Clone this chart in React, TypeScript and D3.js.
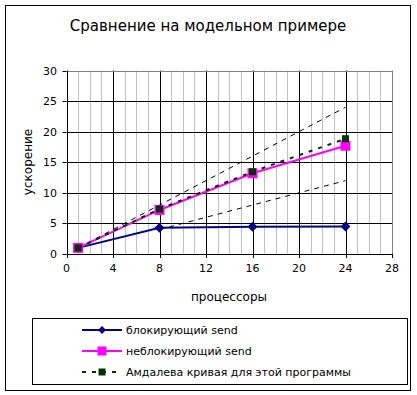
import React from 'react';
import * as d3 from 'd3';

// processors (x) and speedup values
const procs = [1, 8, 16, 24];
const blocking = [1, 4.3, 4.45, 4.5];
const nonBlocking = [1, 7.2, 13.2, 17.7];
const amdahl = [1, 7.35, 13.45, 18.85];
const linear = [1, 8, 16, 24];
const halfProcs = [8, 16, 24];
const halfLinear = [4, 8, 12];

const xTicks = [0, 4, 8, 12, 16, 20, 24, 28];
const yTicks = [0, 5, 10, 15, 20, 25, 30];

const title = 'Сравнение на модельном примере';
const xTitle = 'процессоры';
const yTitle = 'ускорение';
const legendNames = ['блокирующий send', 'неблокирующий send', 'Амдалева кривая для этой программы'];

const W = 417;
const H = 395;
const font = '"DejaVu Sans", Verdana, sans-serif';

const BLUE = '#000080';
const MAGENTA = '#ff00ff';
const GREEN = '#003300';

export default function App() {
    const x = d3.scaleLinear().domain([0, 28]).range([66.5, 392]);
    const y = d3.scaleLinear().domain([0, 30]).range([254, 70.5]);

    const line = d3.line<[number, number]>()
        .x(d => x(d[0]))
        .y(d => y(d[1]));

    const pts = (xs: number[], ys: number[]) => xs.map((v, i) => [v, ys[i]] as [number, number]);

    const minorX = d3.range(0, 29);

    const diamond = (cx: number, cy: number, r: number, key: any) => (
        <path key={key} d={`M${cx},${cy - r}L${cx + r},${cy}L${cx},${cy + r}L${cx - r},${cy}Z`} fill={BLUE} />
    );

    const legendY = [330, 351, 372];

    return (
        <svg width={W} height={H} style={{position: 'absolute', left: 0, top: 0, background: '#fff'}}>
            <rect x={5.5} y={5.5} width={405} height={385} fill="#fff" stroke="#000" />
            <text x={208} y={31} textAnchor="middle" fontFamily={font} fontSize={15}>{title}</text>

            {/* minor vertical gridlines */}
            {minorX.filter(v => v % 4 !== 0).map(v => (
                <line key={'mx' + v} x1={Math.round(x(v)) + 0.5} x2={Math.round(x(v)) + 0.5} y1={y(30)} y2={y(0)} stroke="#c0c0c0" />
            ))}
            {/* major gridlines */}
            {xTicks.filter(v => v > 0 && v < 28).map(v => (
                <line key={'gx' + v} x1={Math.round(x(v)) + 0.5} x2={Math.round(x(v)) + 0.5} y1={y(30)} y2={y(0)} stroke="#000" />
            ))}
            {yTicks.filter(v => v > 0 && v < 30).map(v => (
                <line key={'gy' + v} x1={x(0)} x2={x(28)} y1={Math.round(y(v)) + 0.5} y2={Math.round(y(v)) + 0.5} stroke="#000" />
            ))}
            {/* plot border */}
            <line x1={x(0)} x2={x(28)} y1={Math.round(y(30)) + 0.5} y2={Math.round(y(30)) + 0.5} stroke="#808080" />
            <line x1={Math.round(x(28)) + 0.5} x2={Math.round(x(28)) + 0.5} y1={y(30)} y2={y(0)} stroke="#808080" />

            {/* axes */}
            <line x1={Math.round(x(0)) + 0.5} x2={Math.round(x(0)) + 0.5} y1={y(30)} y2={y(0)} stroke="#000" />
            <line x1={x(0)} x2={x(28)} y1={Math.round(y(0)) + 0.5} y2={Math.round(y(0)) + 0.5} stroke="#000" />
            {yTicks.map(v => (
                <g key={'yt' + v}>
                    <line x1={x(0) - 4} x2={x(0)} y1={Math.round(y(v)) + 0.5} y2={Math.round(y(v)) + 0.5} stroke="#000" />
                    <text x={57} y={y(v) + 4} textAnchor="end" fontFamily={font} fontSize={11}>{v}</text>
                </g>
            ))}
            {xTicks.map(v => (
                <g key={'xt' + v}>
                    <line x1={Math.round(x(v)) + 0.5} x2={Math.round(x(v)) + 0.5} y1={y(0)} y2={y(0) + 4} stroke="#000" />
                    <text x={x(v)} y={y(0) + 18} textAnchor="middle" fontFamily={font} fontSize={11}>{v}</text>
                </g>
            ))}
            <text x={229} y={301} textAnchor="middle" fontFamily={font} fontSize={12}>{xTitle}</text>
            <text transform={`translate(32,162) rotate(-90)`} textAnchor="middle" fontFamily={font} fontSize={12}>{yTitle}</text>

            {/* reference dashed lines */}
            <path d={line(pts(procs, linear)) || ''} fill="none" stroke="#000" strokeWidth={1} strokeDasharray="5,5" />
            <path d={line(pts(halfProcs, halfLinear)) || ''} fill="none" stroke="#000" strokeWidth={1} strokeDasharray="5,5" />

            {/* series */}
            <path d={line(pts(procs, blocking)) || ''} fill="none" stroke={BLUE} strokeWidth={2} />
            {procs.map((p, i) => diamond(x(p), y(blocking[i]), 5, 'bd' + i))}

            <path d={line(pts(procs, nonBlocking)) || ''} fill="none" stroke={MAGENTA} strokeWidth={2} />
            {procs.map((p, i) => (
                <rect key={'ms' + i} x={x(p) - 5} y={y(nonBlocking[i]) - 5} width={10} height={10} fill={MAGENTA} />
            ))}

            <path d={line(pts(procs, amdahl)) || ''} fill="none" stroke={GREEN} strokeWidth={2} strokeDasharray="4,6" />
            {procs.map((p, i) => (
                <rect key={'as' + i} x={x(p) - 3.5} y={y(amdahl[i]) - 3.5} width={7} height={7} fill={GREEN} />
            ))}

            {/* legend */}
            <rect x={32.5} y={318.5} width={375} height={66} fill="#fff" stroke="#000" />
            <line x1={82} x2={122} y1={legendY[0]} y2={legendY[0]} stroke={BLUE} strokeWidth={2} />
            {diamond(102, legendY[0], 4, 'ld')}
            <line x1={82} x2={122} y1={legendY[1]} y2={legendY[1]} stroke={MAGENTA} strokeWidth={2} />
            <rect x={97.5} y={legendY[1] - 4.5} width={9} height={9} fill={MAGENTA} />
            <line x1={82} x2={122} y1={legendY[2]} y2={legendY[2]} stroke={GREEN} strokeWidth={2} strokeDasharray="4,6" />
            <rect x={98.5} y={legendY[2] - 3.5} width={7} height={7} fill={GREEN} />
            {legendNames.map((n, i) => (
                <text key={'ln' + i} x={126} y={legendY[i] + 4} fontFamily={font} fontSize={11}>{n}</text>
            ))}
        </svg>
    );
}
